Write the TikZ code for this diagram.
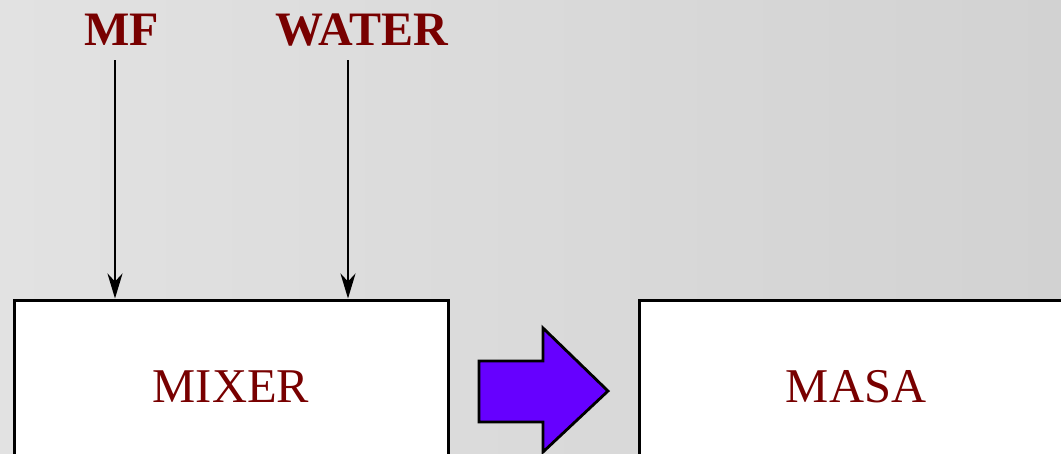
\documentclass[tikz,border=0pt]{standalone}
\usepackage{fontspec}
\setmainfont{Liberation Serif}
\usetikzlibrary{arrows.meta}
\definecolor{darkred}{RGB}{120,0,0}
\definecolor{violetfill}{RGB}{102,0,255}
\begin{document}
\begin{tikzpicture}[x=1pt,y=-1pt,
  label/.style={text=darkred,font=\fontsize{48}{48}\selectfont\bfseries,inner sep=0pt},
  unit/.style={draw=black,line width=3pt,fill=white,minimum width=434pt,minimum height=174pt,
    text=darkred,font=\fontsize{48.5}{48}\selectfont,inner sep=0pt},
  feed/.style={draw=black,line width=2.5pt,-{Stealth[length=25pt,width=15pt,inset=8pt]}}]
\useasboundingbox (0,0) rectangle (1061,453);
\clip (0,0) rectangle (1061,453);
\shade[left color={rgb,255:red,226;green,226;blue,226},right color={rgb,255:red,210;green,210;blue,210}] (0,0) rectangle (1061,453);
\node[label] (mf) at (122,30) {MF};
\node[label] (water) at (362,30) {WATER};
\node[unit] (mixer) at (231,387) {MIXER};
\node[unit] (masa) at (856,387) {MASA};
\coordinate (mfs) at (115,60);
\coordinate (was) at (348,60);
\draw[feed] (mfs) -- (mfs |- mixer.north);
\draw[feed] (was) -- (was |- mixer.north);
\draw[line width=2.8pt,fill=violetfill,line join=miter]
  (479,361) -- (543,361) -- (543,328) -- (608,391) -- (543,452) -- (543,422) -- (479,422) -- cycle;
\end{tikzpicture}
\end{document}
